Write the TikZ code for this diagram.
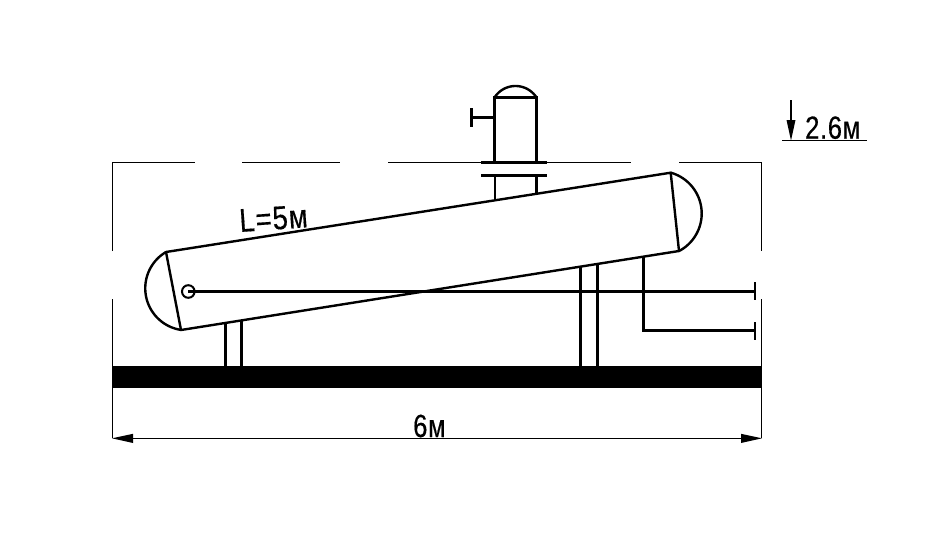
\documentclass[tikz,border=0pt]{standalone}
\usepackage{fontspec}
\setmainfont[FakeStretch=0.8,FakeBold=0.4,LetterSpace=2]{Liberation Sans}
\newfontfamily\lenfont[FakeStretch=0.83,FakeBold=0.4,LetterSpace=3]{Liberation Sans}
\tikzset{
  thick line/.style={line width=2.6pt,line cap=butt},
  vessel line/.style={line width=2.4pt,line cap=round,line join=round},
  thin line/.style={line width=1.3pt},
  head/.style={fill=black,draw=none},
  dimtext/.style={inner sep=0pt,anchor=base west,font=\fontsize{32}{32}\selectfont}
}
\begin{document}
\begin{tikzpicture}[x=1pt,y=-1pt]
\useasboundingbox (0,0) rectangle (943,557);
\fill[white] (0,0) rectangle (943,557);
% ground
\fill[black] (112,366) rectangle (761.5,388);
% frame
\draw[thin line] (112.5,251) -- (112.5,162.3) -- (195,162.3);
\draw[thin line] (242,162.3) -- (340,162.3);
\draw[thin line] (388,162.3) -- (631,162.3);
\draw[thin line] (679,162.3) -- (761.7,162.3) -- (761.7,251);
\draw[thin line] (112.5,299) -- (112.5,438.3);
\draw[thin line] (761.7,299) -- (761.7,438.3);
% bottom dimension
\draw[thin line] (125,438.3) -- (750,438.3);
\fill[head] (112,438.3) -- (133,433.8) -- (133,443) -- cycle;
\fill[head] (762,438.3) -- (741,433.8) -- (741,443) -- cycle;
\node[dimtext] (six) at (413,437) {6м};
% height dimension
\draw[thin line] (791,100) -- (791,125);
\fill[head] (791,140.5) -- (786.5,120) -- (795.5,120) -- cycle;
\draw[thin line] (782,140.5) -- (867,140.5);
\node[dimtext] (hgt) at (805,138.7) {2.6м};
% vessel
\coordinate (vTL) at (166,252);
\coordinate (vBL) at (181,330);
\coordinate (vTR) at (670.7,172.7);
\coordinate (vBR) at (679,251);
\draw[vessel line] (vTL) -- (vTR) -- (vBR) -- (vBL) -- cycle;
\draw[vessel line] plot[domain=98.7:239.5,samples=60] ({187.35+42.1*cos(\x)},{288.3+42.1*sin(\x)});
\draw[vessel line] plot[domain=-74.4:62.3,samples=60] ({659.3+42.4*cos(\x)},{213.5+42.4*sin(\x)});
\node[dimtext,rotate=4,font=\lenfont\fontsize{33}{33}\selectfont] (len) at (240,232) {L=5м};
% nozzle circle and pipe
\draw[line width=2pt] (188.3,291.5) circle[radius=6.3];
\draw[thick line] (188.3,291.5) -- (755,291.5);
\draw[thick line] (755,282) -- (755,300);
% lower pipe
\draw[thick line,line join=miter] (643.3,256) -- (643.3,330.5) -- (755,330.5);
\draw[thick line] (755,322) -- (755,340);
% supports
\draw[thick line] (225.5,323) -- (225.5,366);
\draw[thick line] (241.5,320.5) -- (241.5,366);
\draw[thick line] (580.3,267) -- (580.3,366);
\draw[thick line] (597.5,264.5) -- (597.5,366);
% column
\draw[thick line] (494.5,162) -- (494.5,97.5) -- (536.5,97.5) -- (536.5,162);
\draw[vessel line] plot[domain=212.5:327.5,samples=40] ({515.5+24.9*cos(\x)},{110.9+24.9*sin(\x)});
\draw[thick line] (494.5,117.5) -- (471.5,117.5);
\draw[thick line] (471.5,108) -- (471.5,127);
\draw[line width=3pt] (481,162.5) -- (547,162.5);
\draw[line width=3pt] (481,175) -- (547,175);
\draw[line width=2pt] (494.5,175) -- (494.5,200.5);
\draw[thick line] (536.5,175) -- (536.5,194);
\end{tikzpicture}
\end{document}
